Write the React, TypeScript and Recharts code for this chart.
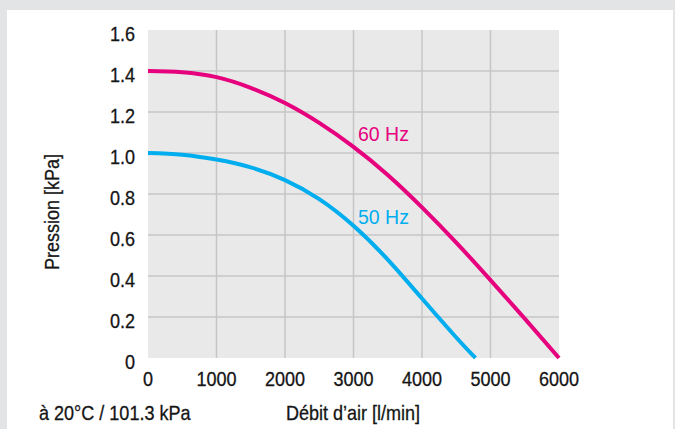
import { LineChart, Line, XAxis, YAxis, CartesianGrid, ReferenceLine, ReferenceDot } from 'recharts';

// débit d'air [l/min] / pression [kPa] à 60 Hz
const flow60 = [0, 500, 1000, 1500, 2000, 2500, 3000, 3500, 4000, 4500, 5000, 5500, 6000];
const pressure60 = [1.40, 1.394, 1.37, 1.318, 1.244, 1.147, 1.03, 0.893, 0.735, 0.563, 0.38, 0.192, 0.0];

// débit d'air [l/min] / pression [kPa] à 50 Hz
const flow50 = [0, 500, 1000, 1500, 2000, 2500, 3000, 3500, 4000, 4500, 4780];
const pressure50 = [1.0, 0.992, 0.968, 0.93, 0.868, 0.775, 0.645, 0.48, 0.29, 0.1, 0.0];

const xTicks = [0, 1000, 2000, 3000, 4000, 5000, 6000];
const yTicks = [0, 0.2, 0.4, 0.6, 0.8, 1.0, 1.2, 1.4, 1.6];

const PINK = '#e6007e';
const BLUE = '#00aeef';
const TEXT = '#151515';
const FONT = '"Liberation Sans", Arial, sans-serif';
const SQUEEZE = 0.88; // condensed look

const data60 = flow60.map((q, i) => ({ q, p: pressure60[i] }));
const data50 = flow50.map((q, i) => ({ q, p: pressure50[i] }));

function CondensedText({ x, y, anchor, children, rotate = 0 }: any) {
  return (
    <text
      transform={`translate(${x},${y}) rotate(${rotate}) scale(${SQUEEZE},1)`}
      textAnchor={anchor}
      fill={TEXT}
      stroke={TEXT}
      strokeWidth={0.3}
      fontSize={20.5}
      fontFamily={FONT}
    >
      {children}
    </text>
  );
}

const XTick = ({ x, y, payload }: any) => (
  <CondensedText x={x} y={y + 28} anchor="middle">
    {payload.value}
  </CondensedText>
);

const YTick = ({ x, y, payload }: any) => (
  <CondensedText x={x} y={y + 11} anchor="end">
    {payload.value === 0 ? '0' : payload.value.toFixed(1)}
  </CondensedText>
);

export default function App() {
  return (
    <div style={{ position: 'fixed', left: 0, top: 0, width: 675, height: 429, background: '#e3e4e6' }}>
      <div style={{ position: 'absolute', left: 7, top: 10, width: 666, height: 419, background: '#fff' }} />
      <LineChart
        width={675}
        height={429}
        margin={{ top: 30, right: 116, bottom: 0, left: 0 }}
        style={{ position: 'absolute', left: 0, top: 0 }}
      >
        <CartesianGrid fill="#e9e9e9" horizontal={false} vertical={false} />
        <XAxis
          type="number"
          dataKey="q"
          domain={[0, 6000]}
          ticks={xTicks}
          height={71}
          axisLine={false}
          tickLine={false}
          tickSize={0}
          tickMargin={0}
          tick={<XTick />}
          label={{
            content: () => (
              <CondensedText x={353} y={420} anchor="middle">
                Débit d’air [l/min]
              </CondensedText>
            ),
          }}
        />
        <YAxis
          type="number"
          dataKey="p"
          domain={[0, 1.6]}
          ticks={yTicks}
          width={148}
          axisLine={false}
          tickLine={false}
          tickSize={0}
          tickMargin={13}
          tick={<YTick />}
          label={{
            content: () => (
              <CondensedText x={59} y={212} anchor="middle" rotate={-90}>
                Pression [kPa]
              </CondensedText>
            ),
          }}
        />
        {yTicks.slice(1, -1).map((v) => (
          <ReferenceLine key={'h' + v} y={v} stroke="#c6c6c6" strokeWidth={1.5} />
        ))}
        {xTicks.slice(1, -1).map((v) => (
          <ReferenceLine key={'v' + v} x={v} stroke="#c6c6c6" strokeWidth={1.5} />
        ))}
        <Line data={data60} dataKey="p" type="natural" stroke={PINK} strokeWidth={4} dot={false} isAnimationActive={false} />
        <Line data={data50} dataKey="p" type="natural" stroke={BLUE} strokeWidth={4} dot={false} isAnimationActive={false} />
        <ReferenceDot
          x={3066}
          y={1.093}
          r={0}
          stroke="none"
          fill="none"
          label={{ value: '60 Hz', position: 'right', offset: 0, fill: PINK, fontSize: 19.5, fontFamily: FONT }}
        />
        <ReferenceDot
          x={3066}
          y={0.688}
          r={0}
          stroke="none"
          fill="none"
          label={{ value: '50 Hz', position: 'right', offset: 0, fill: BLUE, fontSize: 19.5, fontFamily: FONT }}
        />
        <g>
          <CondensedText x={39} y={420} anchor="start">
            à 20°C / 101.3 kPa
          </CondensedText>
        </g>
      </LineChart>
    </div>
  );
}
